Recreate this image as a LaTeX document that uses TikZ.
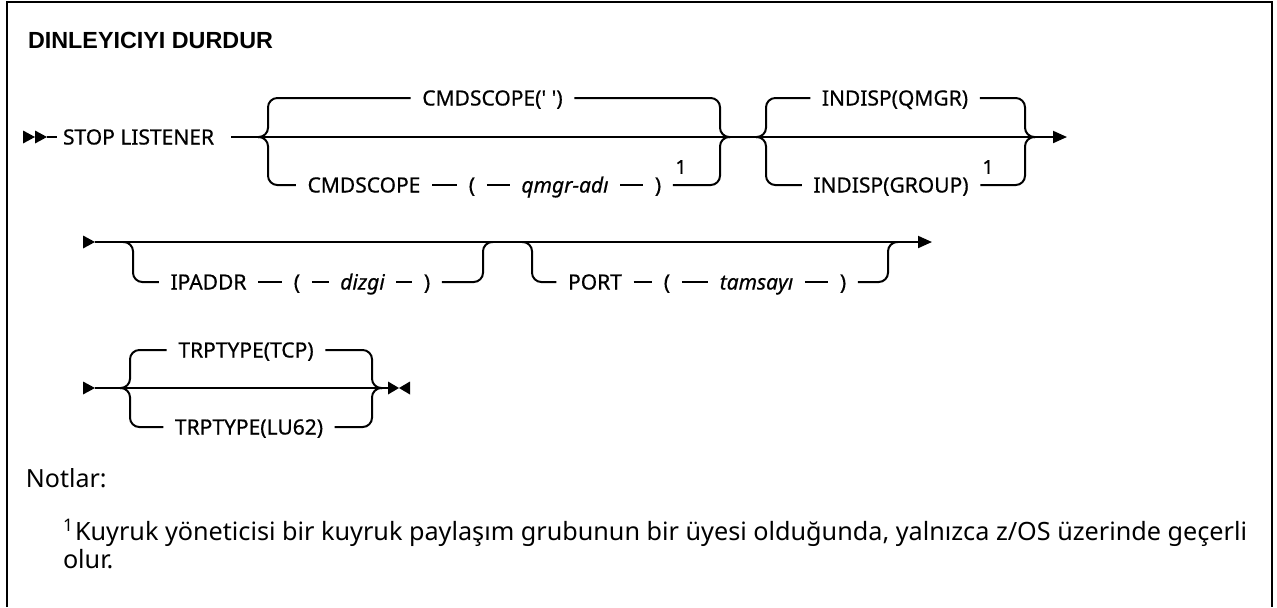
\documentclass[tikz,border=0pt]{standalone}
\usepackage{fontspec}
\setmainfont{Noto Sans}
\newfontfamily\titlefont{Liberation Sans}
\newfontfamily\diagfont{Noto Sans}[FakeBold=0.6]
\usetikzlibrary{arrows.meta}
\begin{document}
\begin{tikzpicture}[x=0.75pt,y=-0.75pt,line width=1.5pt,
  lbl/.style={inner xsep=8pt,inner ysep=0pt,font=\diagfont\fontsize{15.75}{18}\selectfont,text height=11.25pt,text depth=0pt},
  ital/.style={lbl,font=\diagfont\fontsize{15.75}{18}\selectfont\itshape},
  fn/.style={inner sep=0pt,font=\diagfont\fontsize{14.5}{16}\selectfont},
  rnd/.style={rounded corners=7pt},
  tip/.style={-{Triangle[length=10.5pt,width=9pt]}},
  frame/.style={line width=1.5pt},
  notefont/.style={inner sep=0pt,font=\fontsize{18.9}{22}\selectfont}
]
\useasboundingbox (0,0) rectangle (1277,607);
\draw[frame] (7,607) -- (7,2) -- (1272,2) -- (1272,607);

\node[anchor=west,inner sep=0pt,font=\titlefont\bfseries\fontsize{17.5}{20}\selectfont] (title) at (27,40) {DINLEYICIYI DURDUR};

% ---------- Row 1 ----------
\fill (23,130.5) -- (35,137) -- (23,143.5) -- cycle;
\fill (35,130.5) -- (47,137) -- (35,143.5) -- cycle;
\coordinate (r1a) at (47,137);
\coordinate (r1b) at (57,137);
\draw (r1a) -- (r1b);
\node[lbl,anchor=west,inner xsep=0pt] (stop) at (62,137) {STOP LISTENER};
\coordinate (s1) at (258,137);
\coordinate (b1) at (268,137);
\coordinate (j1) at (720,137);
\coordinate (e1) at (730,137);
\coordinate (s2) at (756,137);
\coordinate (b2) at (766,137);
\coordinate (j2) at (1025,137);
\coordinate (e2) at (1035,137);
\coordinate (end1) at (1067,137);
\draw[tip] ([xshift=12pt]stop.east) -- (end1);

\node[lbl] (cmd1) at (492.5,98) {CMDSCOPE(\textquotesingle\ \textquotesingle)};
\node[lbl] (cmdL) at (364,185) {CMDSCOPE};
\node[lbl] (pa1) at (472,185) {(};
\node[ital] (qm) at (565,185) {qmgr-adı};
\node[lbl] (pa2) at (658,185) {)};
\node[fn] (n1a) at (681,167) {1};
\draw[rnd] (s1) -- (b1) |- (cmd1.west);
\draw[rnd] (cmd1.east) -| (j1) -- (e1);
\draw[rnd] (s1) -- (b1) |- (cmdL.west);
\draw (cmdL.east) -- (pa1.west);
\draw (pa1.east) -- (qm.west);
\draw (qm.east) -- (pa2.west);
\draw[rnd] (pa2.east) -| (j1) -- (e1);

\node[lbl] (iq) at (895,98) {INDISP(QMGR)};
\node[lbl] (ig) at (891,185) {INDISP(GROUP)};
\node[fn] (n1b) at (988,167) {1};
\draw[rnd] (s2) -- (b2) |- (iq.west);
\draw[rnd] (iq.east) -| (j2) -- (e2);
\draw[rnd] (s2) -- (b2) |- (ig.west);
\draw[rnd] (ig.east) -| (j2) -- (e2);

% ---------- Row 2 ----------
\coordinate (r2s) at (95,242);
\coordinate (r2e) at (932,242);
\fill (83,235.5) -- (95,242) -- (83,248.5) -- cycle;
\draw[tip] (r2s) -- (r2e);
\coordinate (s3) at (123,242);
\coordinate (b3) at (133,242);
\coordinate (j3) at (483,242);
\coordinate (e3) at (493,242);
\node[lbl] (ip) at (208.5,282) {IPADDR};
\node[lbl] (pa3) at (297,282) {(};
\node[ital] (dz) at (362.5,282) {dizgi};
\node[lbl] (pa4) at (427,282) {)};
\draw[rnd] (s3) -- (b3) |- (ip.west);
\draw (ip.east) -- (pa3.west);
\draw (pa3.east) -- (dz.west);
\draw (dz.east) -- (pa4.west);
\draw[rnd] (pa4.east) -| (j3) -- (e3);

\coordinate (s4) at (522,242);
\coordinate (b4) at (532,242);
\coordinate (j4) at (888,242);
\coordinate (e4) at (898,242);
\node[lbl] (port) at (595,282) {PORT};
\node[lbl] (pa5) at (667,282) {(};
\node[ital] (ts) at (756.5,282) {tamsayı};
\node[lbl] (pa6) at (843,282) {)};
\draw[rnd] (s4) -- (b4) |- (port.west);
\draw (port.east) -- (pa5.west);
\draw (pa5.east) -- (ts.west);
\draw (ts.east) -- (pa6.west);
\draw[rnd] (pa6.east) -| (j4) -- (e4);

% ---------- Row 3 ----------
\coordinate (r3s) at (95,388);
\coordinate (r3e) at (388,388);
\fill (83,381.5) -- (95,388) -- (83,394.5) -- cycle;
\draw (r3s) -- (r3e);
\fill (388,381.5) -- (399,388) -- (388,394.5) -- cycle;
\fill (410,381.5) -- (399,388) -- (410,394.5) -- cycle;
\coordinate (s5) at (120,388);
\coordinate (b5) at (130,388);
\coordinate (j5) at (372,388);
\coordinate (e5) at (382,388);
\node[lbl] (tcp) at (246,350) {TRPTYPE(TCP)};
\node[lbl] (lu) at (249,427) {TRPTYPE(LU62)};
\draw[rnd] (s5) -- (b5) |- (tcp.west);
\draw[rnd] (tcp.east) -| (j5) -- (e5);
\draw[rnd] (s5) -- (b5) |- (lu.west);
\draw[rnd] (lu.east) -| (j5) -- (e5);

% ---------- Notes ----------
\node[anchor=base west,inner sep=0pt,font=\fontsize{18.75}{22}\selectfont] (notes) at (25,487) {Notlar:};
\node[anchor=base west,inner sep=0pt,font=\fontsize{13}{15}\selectfont] (nsup) at (62,531) {1};
\node[anchor=base west,notefont] (note1) at (74,540) {Kuyruk yöneticisi bir kuyruk paylaşım grubunun bir üyesi olduğunda, yalnızca z/OS üzerinde geçerli};
\node[anchor=base west,notefont] (note2) at (62,568) {olur.};
\end{tikzpicture}
\end{document}
